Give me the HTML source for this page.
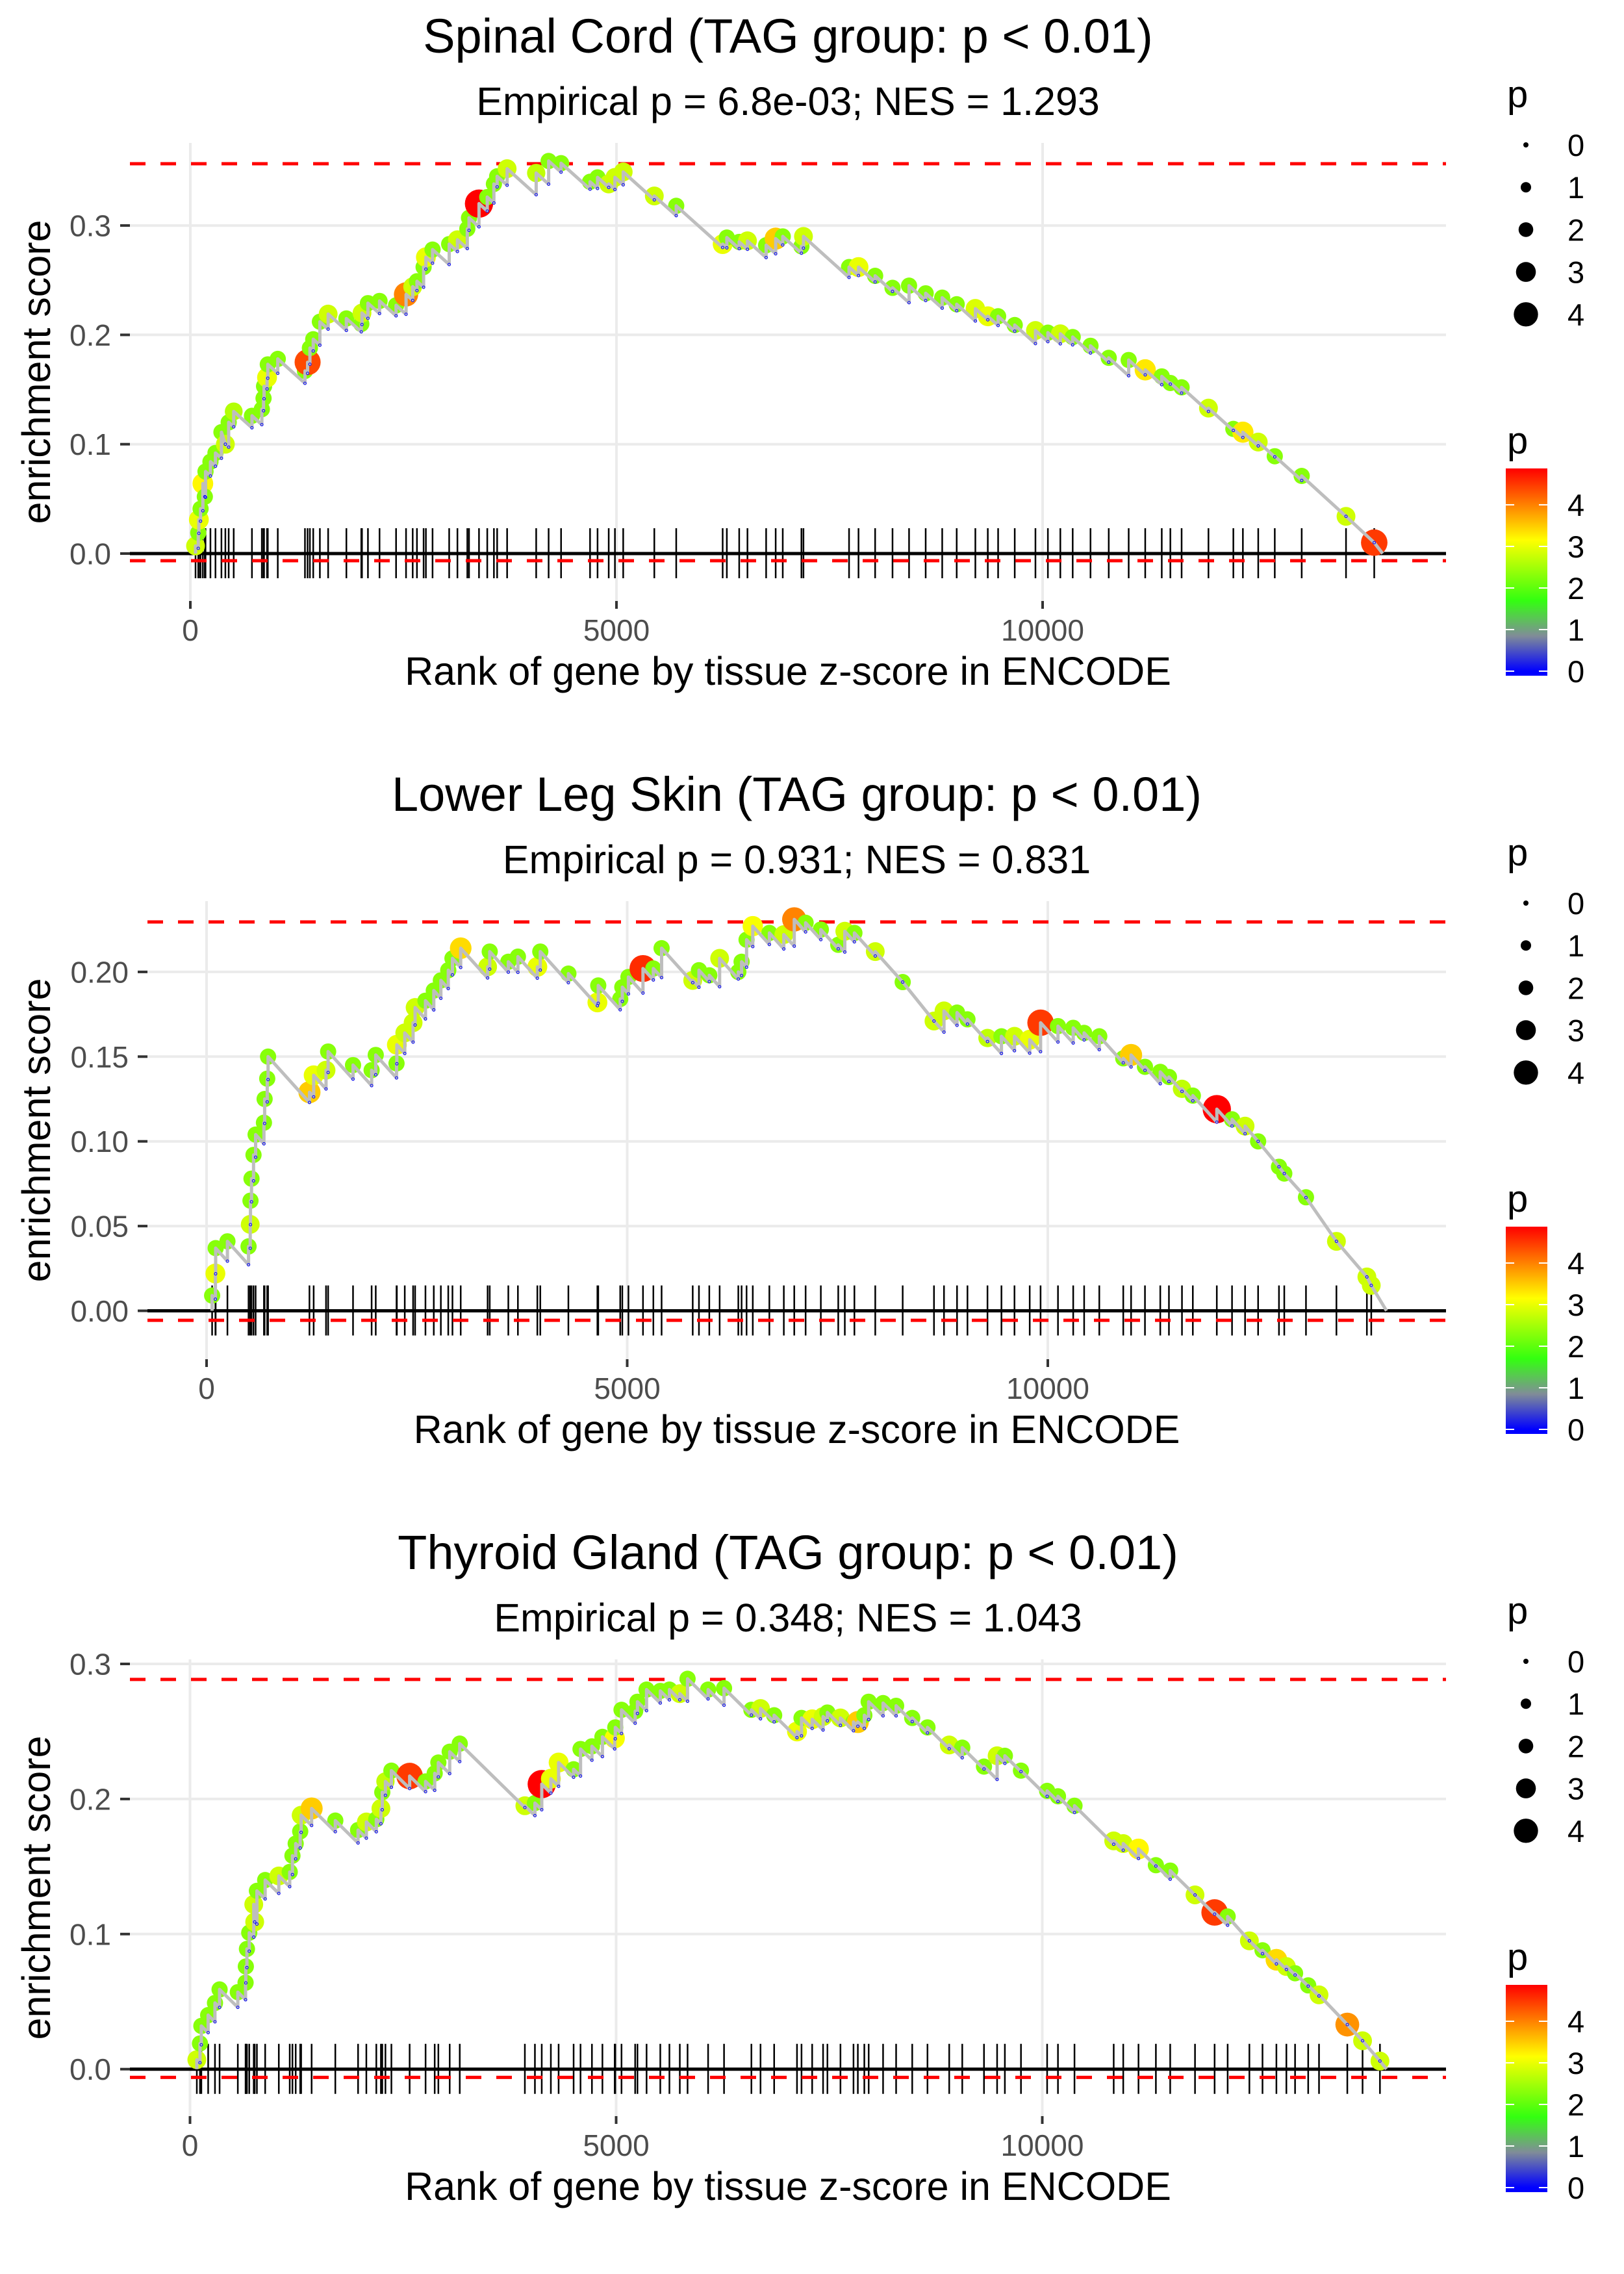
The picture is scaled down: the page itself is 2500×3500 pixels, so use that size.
<!DOCTYPE html>
<html><head><meta charset="utf-8"><title>Enrichment plots</title>
<style>
html,body{margin:0;padding:0;background:#fff;}
svg{display:block;font-family:"Liberation Sans",Arial,sans-serif;}
</style></head>
<body>
<svg id="chart" xmlns="http://www.w3.org/2000/svg" width="2500" height="3500" viewBox="0 0 2500 3500"></svg>
<script>
// ---------- Panel 1: Spinal Cord ----------
const p1Ranks=[61,93,100,120,147,170,178,236,295,365,411,450,509,723,839,859,865,900,909,1026,1345,1376,1403,1442,1520,1617,1831,2006,2014,2084,2220,2414,2531,2609,2659,2737,2764,2842,3037,3134,3250,3270,3387,3484,3562,3600,3717,4058,4204,4350,4690,4778,4909,4982,5079,5444,5701,6246,6295,6440,6537,6756,6868,6951,7170,7194,7729,7840,8035,8239,8433,8628,8822,8992,9211,9357,9478,9673,9916,10062,10208,10353,10562,10776,11010,11204,11398,11499,11631,11946,12238,12350,12530,12724,13040,13560,13891];
const p1ES=[.007,.019,.031,.041,.064,.052,.075,.084,.092,.111,.100,.120,.130,.126,.132,.142,.153,.161,.173,.178,.167,.175,.188,.196,.212,.219,.215,.210,.220,.229,.231,.227,.237,.244,.249,.262,.271,.278,.283,.287,.297,.307,.320,.326,.338,.345,.352,.348,.359,.357,.340,.344,.338,.344,.349,.327,.318,.283,.289,.285,.286,.282,.288,.290,.281,.290,.262,.262,.254,.243,.245,.238,.234,.228,.224,.217,.217,.209,.204,.202,.201,.198,.190,.179,.177,.168,.162,.156,.152,.133,.114,.111,.102,.089,.071,.034,.010];
const p1P=[2.8,2.3,3.0,2.3,3.2,2.3,2.3,2.3,2.3,2.3,2.8,2.3,2.6,2.3,2.3,2.3,2.3,3.0,2.3,2.3,2.3,4.4,2.3,2.3,2.3,2.8,2.3,2.3,2.8,2.3,2.3,2.3,4.0,2.8,2.3,2.3,3.0,2.3,2.3,2.8,2.3,2.3,4.9,2.3,2.3,2.3,2.8,2.7,2.3,2.3,2.3,2.3,2.8,2.8,2.8,2.8,2.3,3.0,2.3,2.3,2.8,2.3,3.5,2.3,2.3,2.8,2.3,3.0,2.3,2.3,2.3,2.3,2.3,2.3,2.9,3.0,2.3,2.3,2.8,2.3,2.8,2.3,2.3,2.3,2.3,3.3,2.3,2.3,2.3,2.8,2.3,3.3,2.8,2.3,2.3,2.8,4.5];
const p1Bounds=[0.3565,-0.0065,13990];
const p1YTicks=[0,0.1,0.2,0.3];
const p1YLabels=["0.0","0.1","0.2","0.3"];

// ---------- Panel 2: Lower Leg Skin ----------
const p2Ranks=[66,105,108,248,499,519,522,534,558,583,682,690,721,731,1223,1273,1420,1445,1741,1962,2011,2258,2262,2356,2455,2479,2602,2701,2785,2873,2923,3021,3341,3366,3587,3701,3932,3967,4301,4646,4656,4917,4942,5015,5188,5311,5409,5779,5853,5976,6099,6321,6360,6419,6493,6690,6862,6986,7121,7302,7509,7587,7701,7949,8275,8647,8766,8921,9045,9283,9449,9604,9785,9914,10121,10302,10432,10612,10897,10990,11155,11337,11440,11595,11724,12009,12190,12345,12500,12748,12811,13069,13431,13793,13845];
const p2ES=[.009,.022,.037,.041,.038,.051,.065,.078,.092,.104,.111,.125,.137,.150,.129,.139,.142,.153,.145,.142,.151,.146,.157,.164,.170,.179,.183,.189,.195,.201,.208,.214,.203,.212,.206,.209,.203,.212,.199,.182,.192,.184,.191,.197,.202,.202,.214,.195,.201,.198,.208,.200,.206,.219,.227,.223,.222,.231,.229,.225,.216,.224,.223,.212,.194,.171,.177,.176,.172,.161,.162,.162,.160,.170,.168,.167,.164,.162,.149,.151,.144,.141,.138,.131,.127,.119,.113,.109,.100,.085,.081,.067,.041,.020,.015];
const p2P=[2.3,3.0,2.3,2.3,2.3,2.8,2.3,2.3,2.3,2.3,2.3,2.3,2.3,2.3,3.5,3.0,2.8,2.3,2.3,2.3,2.3,2.3,3.0,2.8,2.8,2.8,2.3,2.3,2.3,2.3,2.3,3.4,2.8,2.3,2.3,2.3,3.0,2.3,2.3,3.0,2.3,2.3,2.3,2.3,4.6,2.3,2.3,2.8,2.3,2.3,2.8,2.3,2.3,2.3,3.1,2.3,2.8,4.0,2.3,2.3,2.3,2.8,2.3,2.8,2.3,2.8,2.8,2.3,2.3,2.7,2.3,2.8,3.0,4.5,2.3,2.3,2.3,2.3,2.3,3.5,2.3,2.3,2.3,2.7,2.3,4.9,2.3,2.8,2.3,2.3,2.3,2.3,2.8,2.8,2.8];
const p2Bounds=[0.2295,-0.0056,14026];
const p2YTicks=[0,0.05,0.10,0.15,0.20];
const p2YLabels=["0.00","0.05","0.10","0.15","0.20"];

// ---------- Panel 3: Thyroid Gland ----------
const p3Ranks=[80,117,133,213,293,347,561,652,655,668,695,748,759,785,882,1042,1170,1202,1240,1293,1304,1427,1705,1972,2069,2186,2240,2256,2293,2363,2577,2764,2871,2914,3047,3165,3929,4047,4127,4234,4325,4501,4582,4716,4839,4983,4990,5063,5223,5250,5357,5518,5625,5747,5838,6079,6266,6587,6694,6854,7122,7175,7300,7428,7479,7632,7785,7836,7912,7963,8132,8285,8474,8653,8908,9061,9316,9470,9561,9750,10057,10184,10378,10838,10950,11129,11333,11501,11792,12022,12175,12430,12584,12747,12864,12966,13120,13247,13579,13758,13962];
const p3ES=[.007,.019,.032,.040,.049,.059,.057,.064,.076,.089,.101,.122,.109,.132,.140,.143,.146,.158,.167,.176,.188,.193,.184,.177,.183,.185,.193,.205,.213,.221,.217,.213,.219,.227,.235,.241,.195,.197,.211,.215,.227,.222,.237,.239,.246,.245,.253,.266,.265,.272,.281,.280,.281,.278,.289,.281,.282,.266,.267,.262,.250,.260,.259,.261,.264,.260,.257,.257,.262,.272,.271,.269,.260,.253,.240,.238,.224,.232,.232,.221,.206,.202,.195,.169,.167,.163,.151,.147,.129,.116,.113,.095,.088,.081,.076,.071,.062,.055,.033,.021,.006];
const p3P=[2.8,2.3,2.3,2.3,2.3,2.3,2.3,2.3,2.3,2.3,2.3,2.8,2.8,2.3,2.3,2.8,2.3,2.3,2.3,2.3,2.8,3.5,2.3,2.3,2.8,2.3,2.8,2.3,2.7,2.3,4.5,2.3,2.3,2.3,2.3,2.3,2.8,2.3,4.9,3.0,3.0,2.3,2.3,2.3,2.3,3.1,2.3,2.3,2.3,2.3,2.3,2.3,2.3,2.8,2.3,2.3,2.3,2.3,2.8,2.3,3.0,2.3,3.0,2.8,2.3,2.8,2.3,3.5,2.3,2.3,2.3,2.3,2.3,2.3,2.8,2.3,2.3,2.8,2.3,2.3,2.3,2.3,2.3,2.8,2.8,3.2,2.3,2.3,2.8,4.5,2.3,2.8,2.3,3.4,2.8,2.3,2.3,2.8,3.9,2.8,2.8];
const p3Bounds=[0.2885,-0.0061,14039];
const p3YTicks=[0,0.1,0.2,0.3];
const p3YLabels=["0.0","0.1","0.2","0.3"];

// shared x ticks / legend data
const xTicks=[0,5000,10000];
const xTickLabels=["0","5000","10000"];
const legendSizeValues=[0,1,2,3,4];
const legendSizeRadii=[4,8,11.3,15.3,18.7];
const colorBarLabels=[0,1,2,3,4];
const colorStops=[[0,"#0000ff"],[0.85,"#808c98"],[1.7,"#33ff10"],[3.15,"#ffff00"],[4.9,"#ff0000"]];

const NS="http://www.w3.org/2000/svg";
const svg=document.getElementById('chart');
function mk(tag,attrs,parent){const e=document.createElementNS(NS,tag);for(const k in attrs)e.setAttribute(k,attrs[k]);(parent||svg).appendChild(e);return e;}
function hex(c){return [parseInt(c.substr(1,2),16),parseInt(c.substr(3,2),16),parseInt(c.substr(5,2),16)];}
function colorOf(p){
  if(p<=colorStops[0][0])return colorStops[0][1];
  for(let i=1;i<colorStops.length;i++){
    if(p<=colorStops[i][0]){const a=colorStops[i-1],b=colorStops[i];const t=(p-a[0])/(b[0]-a[0]);
      const ca=hex(a[1]),cb=hex(b[1]);return 'rgb('+ca.map((v,j)=>Math.round(v+(cb[j]-v)*t)).join(',')+')';}
  }
  return colorStops[colorStops.length-1][1];
}
function radiusOf(p){
  if(p<=0)return legendSizeRadii[0];
  if(p>=4)return legendSizeRadii[4]+(p-4)*3.4;
  const i=Math.floor(p),t=p-i;return legendSizeRadii[i]+(legendSizeRadii[i+1]-legendSizeRadii[i])*t;
}

const panels=[
 {name:'spinal-cord',title:'Spinal Cord (TAG group: p < 0.01)',sub:'Empirical p = 6.8e-03; NES = 1.293',
  top:220,bottom:925,left:200,right:2226,x0:293,xk:0.1312,y0:852,yk:1683,slope:7e-5,
  ranks:p1Ranks,es:p1ES,ps:p1P,bounds:p1Bounds,yt:p1YTicks,yl:p1YLabels},
 {name:'lower-leg-skin',title:'Lower Leg Skin (TAG group: p < 0.01)',sub:'Empirical p = 0.931; NES = 0.831',
  top:1387,bottom:2092,left:227,right:2226,x0:318,xk:0.1295,y0:2017.5,yk:2608,slope:5.5e-5,
  ranks:p2Ranks,es:p2ES,ps:p2P,bounds:p2Bounds,yt:p2YTicks,yl:p2YLabels},
 {name:'thyroid-gland',title:'Thyroid Gland (TAG group: p < 0.01)',sub:'Empirical p = 0.348; NES = 1.043',
  top:2554,bottom:3257,left:200,right:2226,x0:292.5,xk:0.1312,y0:3184.7,yk:2079,slope:6.2e-5,
  ranks:p3Ranks,es:p3ES,ps:p3P,bounds:p3Bounds,yt:p3YTicks,yl:p3YLabels}
];

panels.forEach((P,idx)=>{
  const xs=r=>P.x0+r*P.xk, ys=v=>P.y0-v*P.yk;
  const g=mk('g',{});
  
  
  const cx=(P.left+P.right)/2;
  const t=mk('text',{x:cx,y:P.top-139,'text-anchor':'middle','font-size':74,fill:'#000'},g);t.textContent=P.title;
  
  const s=mk('text',{x:cx,y:P.top-43,'text-anchor':'middle','font-size':61,fill:'#000'},g);s.textContent=P.sub;
  
  // gridlines
  P.yt.forEach((v,i)=>{
    const l=mk('line',{x1:P.left,x2:P.right,y1:ys(v),y2:ys(v),stroke:'#ebebeb','stroke-width':4},g);
    
    const tk=mk('line',{x1:P.left-15,x2:P.left,y1:ys(v),y2:ys(v),stroke:'#333','stroke-width':4},g);
    
    const tl=mk('text',{x:P.left-29,y:ys(v)+16.5,'text-anchor':'end','font-size':46,fill:'#4d4d4d'},g);tl.textContent=P.yl[i];
    
  });
  xTicks.forEach((v,i)=>{
    const l=mk('line',{x1:xs(v),x2:xs(v),y1:P.top,y2:P.bottom,stroke:'#ebebeb','stroke-width':4},g);
    
    const tk=mk('line',{x1:xs(v),x2:xs(v),y1:P.bottom,y2:P.bottom+12,stroke:'#333','stroke-width':4},g);
    
    const tl=mk('text',{x:xs(v),y:P.bottom+61,'text-anchor':'middle','font-size':46,fill:'#4d4d4d'},g);tl.textContent=xTickLabels[i];
    
  });
  const xt=mk('text',{x:cx,y:P.bottom+129,'text-anchor':'middle','font-size':61,fill:'#000'},g);xt.textContent='Rank of gene by tissue z-score in ENCODE';
  
  const ym=(P.top+P.bottom)/2;
  const yt=mk('text',{x:77,y:ym,'text-anchor':'middle','font-size':61,fill:'#000',transform:'rotate(-90 77 '+ym+')'},g);yt.textContent='enrichment score';
  
  // rug
  P.ranks.forEach(r=>{
    const l=mk('line',{x1:xs(r),x2:xs(r),y1:P.y0-39,y2:P.y0+38,stroke:'#000','stroke-width':2.5},g);
    
  });
  // zero line and dashed bounds
  const z=mk('line',{x1:P.left,x2:P.right,y1:ys(0),y2:ys(0),stroke:'#000','stroke-width':5},g);
  
  [P.bounds[0],P.bounds[1]].forEach((v,i)=>{
    const d=mk('line',{x1:P.left,x2:P.right,y1:ys(v),y2:ys(v),stroke:'#ff0000','stroke-width':5,'stroke-dasharray':'24 23'},g);
    
  });
  // compute running-sum path
  const bottoms=[];let pts=[[xs(P.ranks[0]),ys(0)]];
  for(let i=0;i<P.ranks.length;i++){
    let b;
    if(i===0)b=0;else{b=P.es[i-1]-P.slope*(P.ranks[i]-P.ranks[i-1]);if(b>P.es[i])b=P.es[i];}
    bottoms.push(b);
    pts.push([xs(P.ranks[i]),ys(b)]);pts.push([xs(P.ranks[i]),ys(P.es[i])]);
  }
  pts.push([xs(P.bounds[2]),ys(0)]);
  // points
  P.ranks.forEach((r,i)=>{
    const c=mk('circle',{cx:xs(r),cy:ys(P.es[i]),r:radiusOf(P.ps[i]),fill:colorOf(P.ps[i])},g);
    
  });
  const pl=mk('polyline',{points:pts.map(p=>p[0].toFixed(1)+','+p[1].toFixed(1)).join(' '),fill:'none',stroke:'#bebebe','stroke-width':5,'stroke-linejoin':'round'},g);
  
  P.ranks.forEach((r,i)=>{
    if(i===0)return;
    const c=mk('circle',{cx:xs(r),cy:ys(bottoms[i]),r:2,fill:'none',stroke:'#0000ff','stroke-width':1},g);
    
  });
  // legends
  const off=P.top-220;
  const lg=mk('g',{},g);
  
  const lt=mk('text',{x:2320,y:165+off,'font-size':58,fill:'#000'},lg);lt.textContent='p';
  
  legendSizeValues.forEach((v,i)=>{
    const y=223+off+i*65.2;
    const c=mk('circle',{cx:2349,cy:y,r:legendSizeRadii[i],fill:'#000'},lg);
    
    const tx=mk('text',{x:2413,y:y+17,'font-size':47,fill:'#000'},lg);tx.textContent=String(v);
    
  });
  const cg=mk('g',{},g);
  
  const ct=mk('text',{x:2320,y:698+off,'font-size':58,fill:'#000'},cg);ct.textContent='p';
  
  const gid='grad'+idx;
  const defs=mk('defs',{},cg);
  const lgd=mk('linearGradient',{id:gid,x1:0,y1:1,x2:0,y2:0},defs);
  const barTop=721+off,barBot=1040+off,v0y=1033+off,per=64;
  colorStops.forEach(st=>{
    const y=v0y-st[0]*per;const o=(barBot-y)/(barBot-barTop);
    mk('stop',{offset:Math.max(0,Math.min(1,o)).toFixed(3),'stop-color':st[1]},lgd);
  });
  const bar=mk('rect',{x:2318,y:barTop,width:64,height:barBot-barTop,fill:'url(#'+gid+')'},cg);
  
  colorBarLabels.forEach(v=>{
    const y=v0y-v*per;
    mk('line',{x1:2318,x2:2331,y1:y,y2:y,stroke:'#fff','stroke-width':2},cg);
    mk('line',{x1:2369,x2:2382,y1:y,y2:y,stroke:'#fff','stroke-width':2},cg);
    const tx=mk('text',{x:2413,y:y+17,'font-size':47,fill:'#000'},cg);tx.textContent=String(v);
    
  });
});
</script>
</body></html>
